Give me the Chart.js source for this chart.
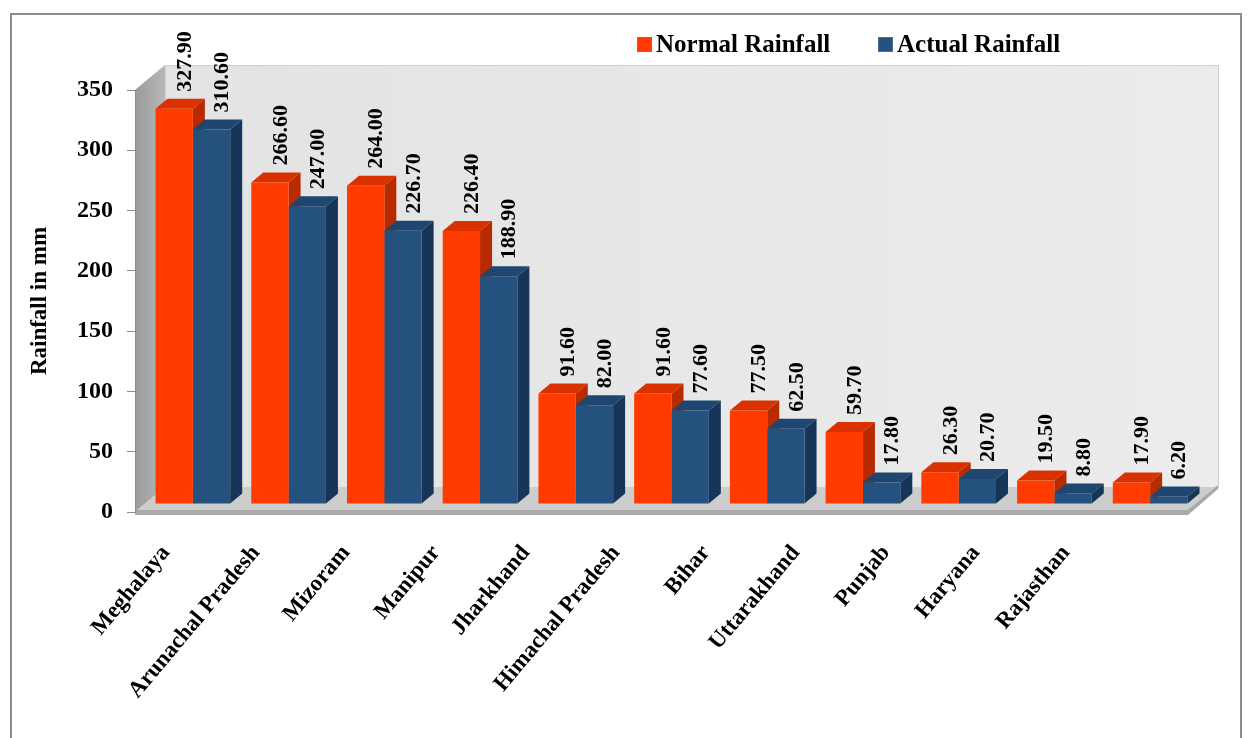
<!DOCTYPE html>
<html>
<head>
<meta charset="utf-8">
<script src="https://cdn.jsdelivr.net/npm/chart.js@4"></script>
<style>
  html, body { margin: 0; padding: 0; background: #fff; }
  #wrap { width: 1252px; height: 738px; position: relative; }
</style>
</head>
<body>
<div id="wrap"><canvas id="rain"></canvas></div>
<script>
const states = ['Meghalaya', 'Arunachal Pradesh', 'Mizoram', 'Manipur', 'Jharkhand',
  'Himachal Pradesh', 'Bihar', 'Uttarakhand', 'Punjab', 'Haryana', 'Rajasthan'];
const normalRainfall = [327.9, 266.6, 264.0, 226.4, 91.6, 91.6, 77.5, 59.7, 26.3, 19.5, 17.9];
const actualRainfall = [310.6, 247.0, 226.7, 188.9, 82.0, 77.6, 62.5, 17.8, 20.7, 8.8, 6.2];
const yTicks = [0, 50, 100, 150, 200, 250, 300, 350];

const FONT = '"Liberation Serif", "Times New Roman", serif';
// depth of the walls, and where the bars sit inside it
const WALL = { dx: 30, dy: -25 };
const BAR_SHIFT = { dx: 10, dy: -8 };
const BAR_DEPTH = { dx: 12, dy: -10 };

const faceColors = [
  { front: '#ff3b00', top: '#d93200', side: '#b82a00' },
  { front: '#24517d', top: '#1f4670', side: '#163558' }
];

const scenePlugin = {
  id: 'scene',
  beforeDraw(chart) {
    const { ctx, chartArea: a } = chart;
    const L = a.left, R = a.right, T = a.top, B = a.bottom;
    ctx.save();
    // outer frame
    ctx.strokeStyle = '#8c8c8c';
    ctx.lineWidth = 2;
    ctx.strokeRect(11, 14, 1230, 740);

    // back wall
    let g = ctx.createLinearGradient(L + WALL.dx, 0, R + WALL.dx, 0);
    g.addColorStop(0, '#e3e3e3');
    g.addColorStop(1, '#ececec');
    ctx.fillStyle = g;
    ctx.fillRect(L + WALL.dx, T + WALL.dy, R - L, B - T);
    ctx.strokeStyle = '#d0d0d0';
    ctx.lineWidth = 1;
    ctx.strokeRect(L + WALL.dx + 0.5, T + WALL.dy + 0.5, R - L, B - T);

    // left wall
    g = ctx.createLinearGradient(L, 0, L + WALL.dx, 0);
    g.addColorStop(0, '#9a9a9a');
    g.addColorStop(1, '#b8b8b8');
    ctx.fillStyle = g;
    ctx.beginPath();
    ctx.moveTo(L, T);
    ctx.lineTo(L + WALL.dx, T + WALL.dy);
    ctx.lineTo(L + WALL.dx, B + WALL.dy);
    ctx.lineTo(L, B);
    ctx.closePath();
    ctx.fill();

    // floor
    ctx.fillStyle = '#cdcdcd';
    ctx.beginPath();
    ctx.moveTo(L, B);
    ctx.lineTo(R, B);
    ctx.lineTo(R + WALL.dx, B + WALL.dy);
    ctx.lineTo(L + WALL.dx, B + WALL.dy);
    ctx.closePath();
    ctx.fill();
    // floor front slab
    ctx.fillStyle = '#a9a9a9';
    ctx.beginPath();
    ctx.moveTo(L, B - 2);
    ctx.lineTo(R, B - 2);
    ctx.lineTo(R + WALL.dx, B + WALL.dy - 2);
    ctx.lineTo(R + WALL.dx, B + WALL.dy + 2);
    ctx.lineTo(R, B + 3);
    ctx.lineTo(L, B + 3);
    ctx.closePath();
    ctx.fill();
    ctx.restore();
  },
  beforeDatasetsDraw(chart) {
    const ctx = chart.ctx;
    ctx.save();
    ctx.translate(BAR_SHIFT.dx, BAR_SHIFT.dy);
    // sides and tops, behind the front faces
    for (let i = 0; i < chart.data.labels.length; i++) {
      chart.data.datasets.forEach((ds, di) => {
        const bar = chart.getDatasetMeta(di).data[i];
        const c = faceColors[di];
        const x0 = bar.x - bar.width / 2, x1 = bar.x + bar.width / 2;
        const top = bar.y, base = bar.base;
        ctx.fillStyle = c.side;
        ctx.beginPath();
        ctx.moveTo(x1, top);
        ctx.lineTo(x1 + BAR_DEPTH.dx, top + BAR_DEPTH.dy);
        ctx.lineTo(x1 + BAR_DEPTH.dx, base + BAR_DEPTH.dy);
        ctx.lineTo(x1, base);
        ctx.closePath();
        ctx.fill();
        ctx.fillStyle = c.top;
        ctx.beginPath();
        ctx.moveTo(x0, top);
        ctx.lineTo(x1, top);
        ctx.lineTo(x1 + BAR_DEPTH.dx, top + BAR_DEPTH.dy);
        ctx.lineTo(x0 + BAR_DEPTH.dx, top + BAR_DEPTH.dy);
        ctx.closePath();
        ctx.fill();
      });
    }
  },
  afterDatasetsDraw(chart) {
    const ctx = chart.ctx;
    ctx.restore();
    // value labels, rotated
    ctx.save();
    ctx.fillStyle = '#000';
    ctx.font = 'bold 22px ' + FONT;
    ctx.textAlign = 'left';
    ctx.textBaseline = 'middle';
    chart.data.datasets.forEach((ds, di) => {
      chart.getDatasetMeta(di).data.forEach((bar, i) => {
        const x = bar.x + BAR_SHIFT.dx + 11;
        const y = bar.y + BAR_SHIFT.dy + BAR_DEPTH.dy - 7;
        ctx.save();
        ctx.translate(x, y);
        ctx.rotate(-Math.PI / 2);
        ctx.fillText(ds.data[i].toFixed(2), 0, 0);
        ctx.restore();
      });
    });
    // legend
    ctx.font = 'bold 25px ' + FONT;
    ctx.textBaseline = 'middle';
    const legendX = [637, 878];
    chart.data.datasets.forEach((ds, di) => {
      ctx.fillStyle = ds.backgroundColor;
      ctx.strokeStyle = di === 0 ? '#c0602a' : '#4a6f98';
      ctx.lineWidth = 1;
      ctx.fillRect(legendX[di], 37, 15, 15);
      ctx.strokeRect(legendX[di] + 0.5, 37.5, 14, 14);
      ctx.fillStyle = '#000';
      ctx.fillText(ds.label, legendX[di] + 19, 46);
    });
    ctx.restore();
  }
};

new Chart(document.getElementById('rain'), {
  type: 'bar',
  data: {
    labels: states,
    datasets: [
      { label: 'Normal Rainfall', data: normalRainfall, backgroundColor: faceColors[0].front },
      { label: 'Actual Rainfall', data: actualRainfall, backgroundColor: faceColors[1].front }
    ]
  },
  options: {
    responsive: true,
    maintainAspectRatio: false,
    animation: false,
    layout: { padding: { left: 0, right: 64, top: 90, bottom: 0 } },
    datasets: { bar: { categoryPercentage: 0.78, barPercentage: 1, clip: false } },
    plugins: { legend: { display: false }, tooltip: { enabled: false } },
    scales: {
      x: {
        display: false
      },
      // category names sit in perspective, a bit tighter than the bars
      names: {
        type: 'linear',
        position: 'bottom',
        offset: false,
        min: -0.344, max: 11.356,
        afterBuildTicks: s => { s.ticks = states.map((_, i) => ({ value: i })); },
        grid: { display: false },
        border: { display: false },
        ticks: {
          color: '#000',
          autoSkip: false,
          font: { family: FONT, size: 23, weight: 'bold' },
          minRotation: 50, maxRotation: 50,
          padding: 20,
          callback: v => states[v]
        },
        afterFit: s => { s.height = 226; }
      },
      y: {
        min: 0, max: 350,
        afterBuildTicks: s => { s.ticks = yTicks.map(v => ({ value: v })); },
        grid: { drawOnChartArea: false, drawTicks: true, tickLength: 8, color: '#8c8c8c' },
        border: { display: true, color: '#8c8c8c' },
        ticks: { color: '#000', font: { family: FONT, size: 24, weight: 'bold' }, padding: 14 },
        title: {
          display: true, text: 'Rainfall in mm', color: '#000',
          font: { family: FONT, size: 23, weight: 'bold' },
          padding: { top: 26, bottom: 0 }
        },
        afterFit: s => { s.width = 135; }
      }
    }
  },
  plugins: [scenePlugin]
});
</script>
</body>
</html>
